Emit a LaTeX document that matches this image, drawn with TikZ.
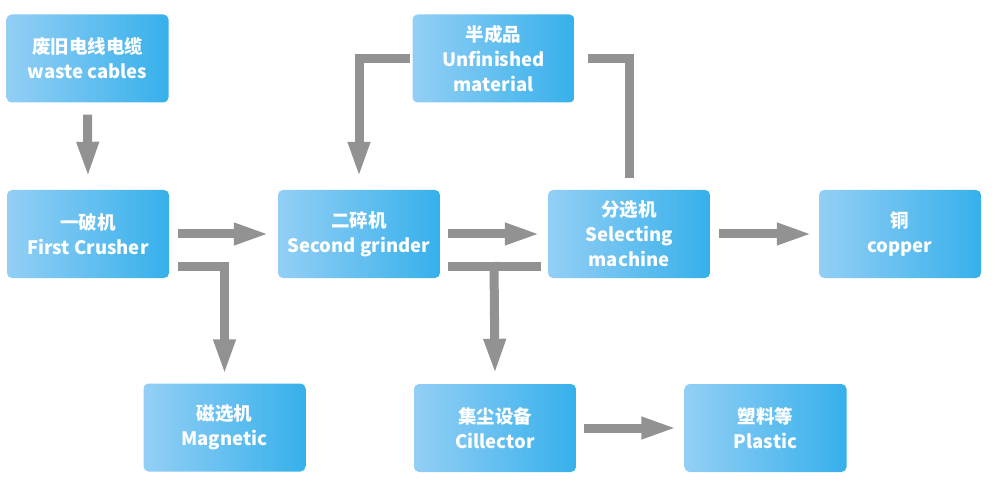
\documentclass[tikz,border=0pt]{standalone}
\usepackage{fontspec}
\newfontfamily\cjk{Noto Sans CJK SC}
\usetikzlibrary{arrows.meta}
\definecolor{boxL}{HTML}{93CFF5}
\definecolor{boxR}{HTML}{36B0EB}
\definecolor{arr}{HTML}{929292}
\begin{document}
\begin{tikzpicture}[x=1pt,y=-1pt,
 box/.style={rounded corners=5pt, left color=boxL, right color=boxR, minimum width=162pt, minimum height=88pt, inner sep=0pt, text=white, align=center, font=\cjk\bfseries\fontsize{18.5}{25}\selectfont},
 flow/.style={draw=arr, line width=9pt, -{Triangle[length=36pt,width=20pt]}},
 plainline/.style={draw=arr, line width=9pt}]
\useasboundingbox (0,0) rectangle (995,494);
\node[box] (waste) at (87.5,58.5) {废旧电线电缆\\waste cables};
\node[box] (first) at (88,234) {一破机\\First Crusher};
\node[box] (second) at (359,234) {二碎机\\Second grinder};
\node[box] (unfin) at (493.5,58.5) {半成品\\Unfinished\\material};
\node[box] (select) at (629,234) {分选机\\Selecting\\machine};
\node[box] (copper) at (900,234) {铜\\copper};
\node[box] (magnet) at (224.5,427.5) {磁选机\\Magnetic};
\node[box] (coll) at (495,428) {集尘设备\\Cillector};
\node[box] (plastic) at (765.5,428) {塑料等\\Plastic};
\coordinate (jn) at (494,262);
\draw[flow] ([yshift=-12pt]waste.south) -- ([yshift=12pt]first.north);
\draw[flow] ([xshift=9pt]first.east) -- ([xshift=-8pt]second.west);
\draw[flow] ([xshift=9pt,yshift=-32pt]first.east) -| ([yshift=8pt]magnet.north);
\draw[flow] ([xshift=-2pt]unfin.west) -| ([yshift=12pt]second.north);
\draw[plainline] ([xshift=13pt]unfin.east) -| ([yshift=12pt]select.north);
\draw[flow] ([xshift=8pt]second.east) -- ([xshift=-7pt]select.west);
\draw[plainline] ([xshift=8pt,yshift=-32pt]second.east) -- ([xshift=-7pt,yshift=-32pt]select.west);
\draw[flow] (jn) -- ([yshift=9pt]coll.north);
\draw[flow] ([xshift=9pt]select.east) -- ([xshift=-6pt]copper.west);
\draw[flow] ([xshift=8pt]coll.east) -- ([xshift=-7pt]plastic.west);
\end{tikzpicture}
\end{document}
